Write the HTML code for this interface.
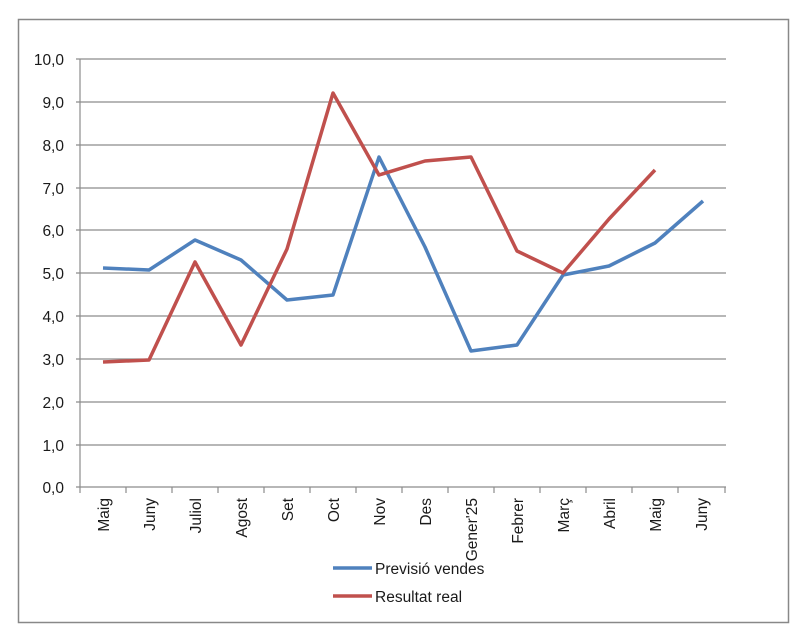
<!DOCTYPE html><html><head><style>body{margin:0;background:#fff}</style></head><body>
<svg width="810" height="638" xmlns="http://www.w3.org/2000/svg" font-family="Liberation Sans, sans-serif" font-size="15.5" fill="#1a1a1a">
<rect x="18.5" y="19.5" width="770" height="603" fill="#fff" stroke="#888" stroke-width="1.5"/>
<g stroke="#8c8c8c" stroke-width="1.2">
<line x1="76" y1="59" x2="726" y2="59"/><line x1="76" y1="102" x2="726" y2="102"/><line x1="76" y1="145" x2="726" y2="145"/><line x1="76" y1="188" x2="726" y2="188"/><line x1="76" y1="230" x2="726" y2="230"/><line x1="76" y1="273" x2="726" y2="273"/><line x1="76" y1="316" x2="726" y2="316"/><line x1="76" y1="359" x2="726" y2="359"/><line x1="76" y1="402" x2="726" y2="402"/><line x1="76" y1="445" x2="726" y2="445"/><line x1="76" y1="487" x2="726" y2="487"/>
<line x1="80" y1="59" x2="80" y2="487"/>
<path d="M80 487v6M126 487v6M172 487v6M218 487v6M264 487v6M310 487v6M356 487v6M402 487v6M448 487v6M494 487v6M540 487v6M586 487v6M632 487v6M678 487v6M725 487v6"/>
</g>
<g text-anchor="end">
<text x="64" y="65">10,0</text><text x="64" y="108">9,0</text><text x="64" y="151">8,0</text><text x="64" y="194">7,0</text><text x="64" y="236">6,0</text><text x="64" y="279">5,0</text><text x="64" y="322">4,0</text><text x="64" y="365">3,0</text><text x="64" y="408">2,0</text><text x="64" y="451">1,0</text><text x="64" y="493">0,0</text>
</g>
<g text-anchor="end">
<text transform="translate(109,498) rotate(-90)">Maig</text>
<text transform="translate(155,498) rotate(-90)">Juny</text>
<text transform="translate(201,498) rotate(-90)">Juliol</text>
<text transform="translate(247,498) rotate(-90)">Agost</text>
<text transform="translate(293,498) rotate(-90)">Set</text>
<text transform="translate(339,498) rotate(-90)">Oct</text>
<text transform="translate(385,498) rotate(-90)">Nov</text>
<text transform="translate(431,498) rotate(-90)">Des</text>
<text transform="translate(477,498) rotate(-90)">Gener'25</text>
<text transform="translate(523,498) rotate(-90)">Febrer</text>
<text transform="translate(569,498) rotate(-90)">Març</text>
<text transform="translate(615,498) rotate(-90)">Abril</text>
<text transform="translate(661,498) rotate(-90)">Maig</text>
<text transform="translate(707,498) rotate(-90)">Juny</text>
</g>
<polyline fill="none" stroke="#4f81bd" stroke-width="3.5" stroke-linejoin="round" points="103,268 149,270 195,240 241,260 287,300 333,295 379,157 425,247 471,351 517,345 563,275 609,266 655,243 703,201"/>
<polyline fill="none" stroke="#c0504d" stroke-width="3.5" stroke-linejoin="round" points="103,362 149,360 195,262 241,345 287,249 333,93 379,175 425,161 471,157 517,251 563,273 609,219 655,170"/>
<line x1="333" y1="568" x2="372" y2="568" stroke="#4f81bd" stroke-width="3.5"/>
<line x1="333" y1="596" x2="372" y2="596" stroke="#c0504d" stroke-width="3.5"/>
<text x="375" y="574">Previsió vendes</text>
<text x="375" y="602">Resultat real</text>
</svg>
</body></html>
